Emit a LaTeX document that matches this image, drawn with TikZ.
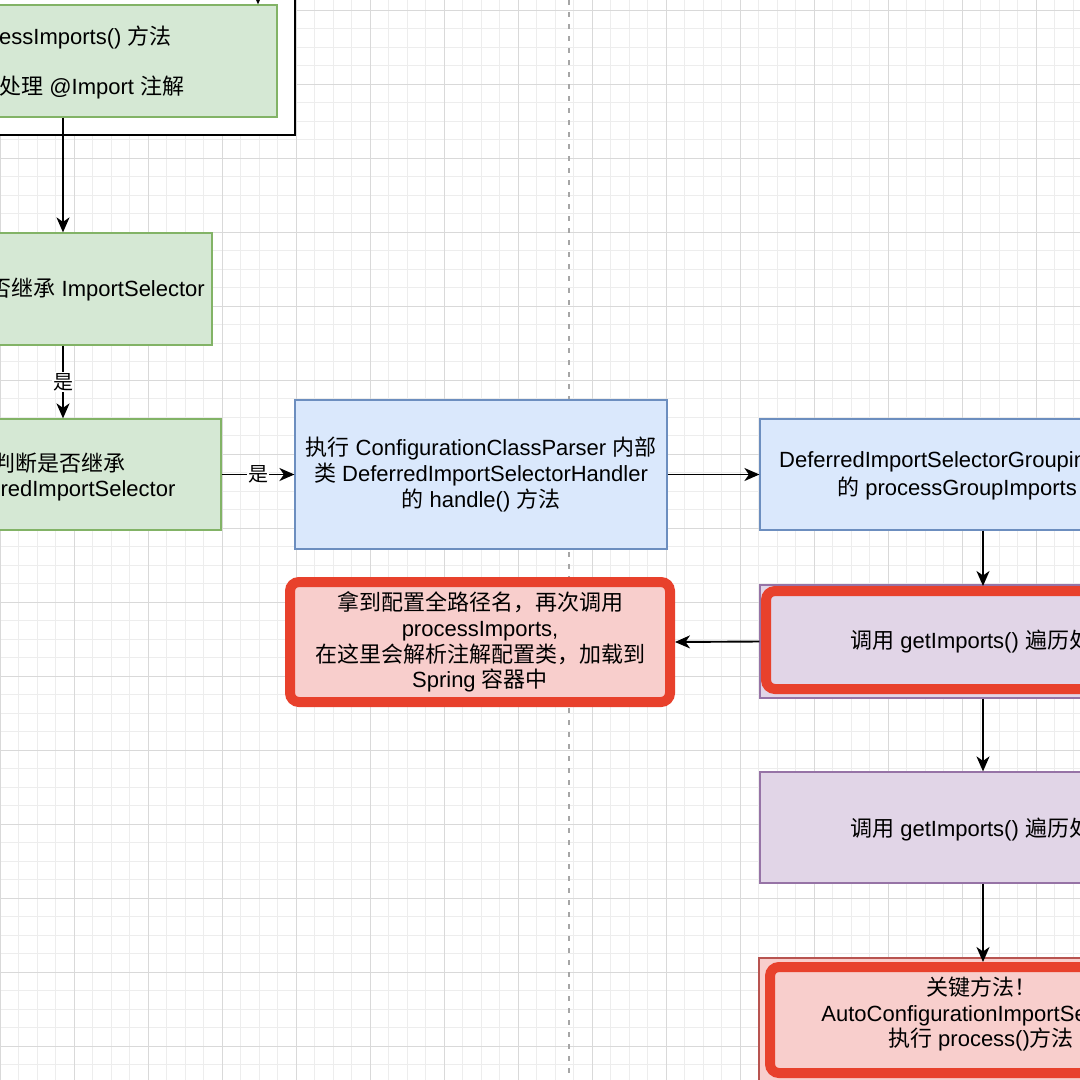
\documentclass[tikz,border=0pt]{standalone}
\usepackage{fontspec}
\setmainfont{Liberation Sans}
\newfontfamily\zh{Noto Sans CJK SC}
\usetikzlibrary{arrows.meta}

\definecolor{gridminor}{HTML}{EDEDED}
\definecolor{gridmajor}{HTML}{D9D9D9}
\definecolor{greenfill}{HTML}{D5E8D4}
\definecolor{greenline}{HTML}{82B366}
\definecolor{bluefill}{HTML}{DAE8FC}
\definecolor{blueline}{HTML}{6C8EBF}
\definecolor{purplefill}{HTML}{E1D5E7}
\definecolor{purpleline}{HTML}{9673A6}
\definecolor{redfill}{HTML}{F8CECC}
\definecolor{redline}{HTML}{B85450}
\definecolor{hired}{HTML}{E8412C}

\tikzset{
  flow/.style={draw=black, line width=1.9pt, -{Stealth[length=15pt,width=13pt,inset=4.5pt]}},
  lbl/.style={fill=white, inner sep=1pt, font=\zh\fontsize{20}{22}\selectfont},
  greenbox/.style={draw=greenline, fill=greenfill, line width=1.2pt, inner sep=0pt},
  bluebox/.style={draw=blueline, fill=bluefill, line width=1.2pt, inner sep=0pt, align=center},
  purplebox/.style={draw=purpleline, fill=purplefill, line width=1.2pt, inner sep=0pt},
  pinkbox/.style={draw=redline, fill=redfill, line width=1.2pt, inner sep=0pt},
  redbox/.style={draw=hired, fill=redfill, line width=10pt, rounded corners=9pt, inner sep=0pt, align=center},
  highlight/.style={draw=hired, line width=10pt, rounded corners=9pt, inner sep=0pt},
  container/.style={draw=black, fill=white, line width=2pt, inner sep=0pt},
  divider/.style={draw=black!35, line width=1.4pt, dash pattern=on 5pt off 7pt}
}

\begin{document}
\begin{tikzpicture}[x=1pt, y=-1pt, font=\fontsize{22}{25.8}\selectfont]
  \useasboundingbox (0,0) rectangle (1080,1080);
  \clip (0,0) rectangle (1080,1080);
  \fill[white] (0,0) rectangle (1080,1080);

  % grid of the canvas
  \foreach \gx in {0,18.5,...,1090} \draw[gridminor, line width=0.8pt] (\gx,0) -- (\gx,1080);
  \foreach \gy in {-8.5,10,...,1090} \draw[gridminor, line width=0.8pt] (0,\gy) -- (1080,\gy);
  \foreach \gx in {0,74,...,1090} \draw[gridmajor, line width=0.9pt] (\gx,0) -- (\gx,1080);
  \foreach \gy in {10,84,...,1090} \draw[gridmajor, line width=0.9pt] (0,\gy) -- (1080,\gy);

  \draw[divider] (569,0) -- (569,1080);

  % left column
  \node[container, minimum width=335, minimum height=175] (outer) at (127.5,47.5) {};
  \node[greenbox, minimum width=337, minimum height=112] (proc) at (108.5,61) {};
  \node[anchor=west, align=left, inner sep=0pt] (procTxt) at (-1,62.5)
    {essImports() {\zh 方法}\\[25pt]{\zh 处理} @Import {\zh 注解}};
  \node[greenbox, minimum width=332, minimum height=112] (sel) at (46,289) {};
  \node[anchor=east, inner sep=0pt] (selTxt) at (205,290) {{\zh 否继承} ImportSelector};
  \node[greenbox, minimum width=341, minimum height=111] (def) at (50.5,474.5) {};
  \node[anchor=west, align=left, inner sep=0pt] (defTxt) at (-7,477)
    {{\zh 判断是否继承}\\rredImportSelector};
  \coordinate (colA) at (63,0);
  \coordinate (topIn) at (258,-40);

  % middle column
  \node[bluebox, minimum width=372, minimum height=149] (hdl) at (481,474.5)
    {{\zh 执行} ConfigurationClassParser {\zh 内部}\\{\zh 类} DeferredImportSelectorHandler\\{\zh 的} handle() {\zh 方法}};
  \node[redbox, minimum width=380, minimum height=120] (load) at (480,642)
    {{\zh 拿到配置全路径名，再次调用}\\processImports,\\{\zh 在这里会解析注解配置类，加载到}\\Spring {\zh 容器中}};

  % right column
  \node[bluebox, minimum width=446, minimum height=111] (grp) at (983,474.5) {};
  \node[anchor=west, inner sep=0pt] (grpTxtA) at (779,462) {DeferredImportSelectorGroupin};
  \node[anchor=west, inner sep=0pt] (grpTxtB) at (837,488) {{\zh 的} processGroupImports};
  \node[purplebox, minimum width=446, minimum height=113] (getA) at (983,641.5) {};
  \node[highlight, minimum width=434, minimum height=98] (getAmark) at (983,640) {};
  \node[anchor=west, inner sep=0pt] (getATxt) at (850,642) {{\zh 调用} getImports() {\zh 遍历处}};
  \node[purplebox, minimum width=446, minimum height=111] (getB) at (983,827.5) {};
  \node[anchor=west, inner sep=0pt] (getBTxt) at (850,830) {{\zh 调用} getImports() {\zh 遍历处}};
  \node[pinkbox, minimum width=448, minimum height=124] (key) at (983,1020) {};
  \node[highlight, minimum width=426, minimum height=106] (keymark) at (983,1020) {};
  \node[align=center, inner sep=0pt] (keyTxt) at (981,1014)
    {{\zh 关键方法！}\\AutoConfigurationImportSelector\\{\zh 执行} process(){\zh 方法}};

  % connectors
  \draw (topIn) edge[flow] (topIn |- proc.north);
  \draw (proc.south -| colA) edge[flow] (sel.north -| colA);
  \draw (sel.south -| colA) edge[flow] node[lbl]{是} (def.north -| colA);
  \draw (def.east) edge[flow] node[lbl]{是} (hdl.west);
  \draw (hdl.east) edge[flow] (grp.west);
  \draw (grp.south) edge[flow] (getAmark.north);
  \draw (getA.west) edge[flow] (load.east);
  \draw (getA.south) edge[flow] (getB.north);
  \draw (getB.south) edge[flow] (keymark.north);
\end{tikzpicture}
\end{document}
